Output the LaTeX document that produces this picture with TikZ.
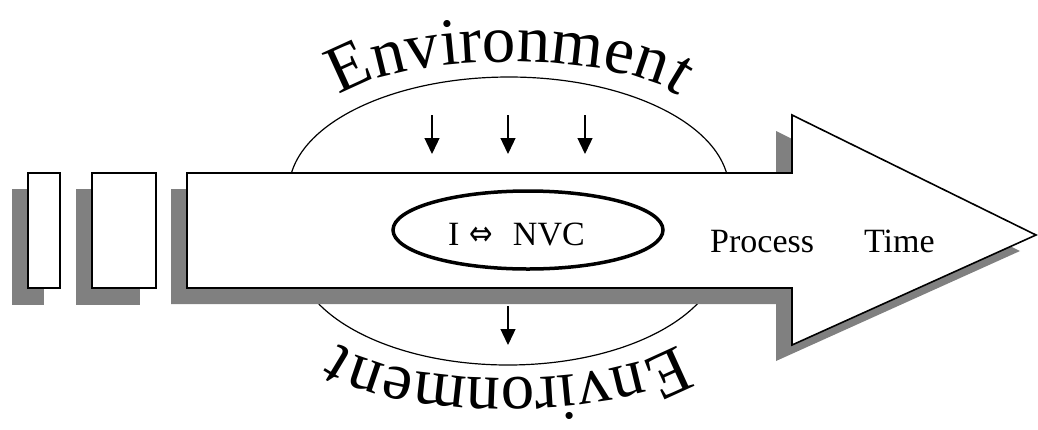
\documentclass[tikz,border=0pt]{standalone}
\usepackage{fontspec}
\usepackage{graphicx}
\setmainfont{Liberation Serif}
\newfontfamily\archfont{Liberation Serif}
\newfontfamily\arrowfont{DejaVu Sans}
\usetikzlibrary{decorations.text,arrows.meta,shapes.geometric}
\definecolor{shadowgray}{RGB}{128,128,128}
\newcommand{\archstyle}{\archfont\fontsize{67}{67}\selectfont}

\begin{document}
\begin{tikzpicture}[x=1pt,y=-1pt,
  outline/.style={draw=black,line width=1.6pt,fill=white,line join=miter},
  shadebox/.style={fill=shadowgray,draw=none},
  envarc/.style={draw=black,line width=1.2pt},
  inflow/.style={draw=black,line width=1.3pt,-{Triangle[width=15pt,length=16pt]}},
  labeltext/.style={font=\fontsize{34}{40}\selectfont,inner sep=0pt},
  corering/.style={draw=black,line width=3.5pt,ellipse,inner sep=0pt,
                   minimum width=270,minimum height=78}]
\useasboundingbox (0,0) rectangle (1038,429);

% environment arcs, partly hidden behind the process arrow
\draw[envarc] (289,190) arc[start angle=180,end angle=360,x radius=220,y radius=113];
\draw[envarc] (721,252) arc[start angle=0,end angle=180,x radius=213,y radius=113];

% earlier stages with drop shadows
\fill[shadebox] (12,189) rectangle (44,305);
\draw[outline] (28,173) rectangle (60,288);
\fill[shadebox] (76,189) rectangle (140,305);
\draw[outline] (92,173) rectangle (156,288);

% process arrow with drop shadow
\fill[shadebox,shift={(-16,16)}] (187,173) -- (792,173) -- (792,115) -- (1036,235)
  -- (792,345) -- (792,288) -- (187,288) -- cycle;
\draw[outline] (187,173) -- (792,173) -- (792,115) -- (1036,235)
  -- (792,345) -- (792,288) -- (187,288) -- cycle;

% environment influences
\coordinate (in1s) at (432,115); \coordinate (in1e) at (432,154);
\coordinate (in2s) at (508,115); \coordinate (in2e) at (508,154);
\coordinate (in3s) at (585,115); \coordinate (in3e) at (585,154);
\coordinate (out1s) at (508,306); \coordinate (out1e) at (508,345);
\draw[inflow] (in1s) -- (in1e);
\draw[inflow] (in2s) -- (in2e);
\draw[inflow] (in3s) -- (in3e);
\draw[inflow] (out1s) -- (out1e);

% core interaction
\node[corering] (core) at (528,230) {};
\node[labeltext,anchor=base west] (coretext) at (448,245)
  {I\hspace{10pt}\scalebox{1}[1.25]{\arrowfont\fontsize{28}{28}\selectfont ⇔}\hspace{20pt}NVC};

% process label
\node[labeltext,anchor=base west] (proc) at (710,252) {Process\hspace{50pt}Time};

% arched captions
\path[decorate,decoration={text along path,text align=center,
    text={|\archstyle|Environment}}]
  (331,112) arc[start angle=180,end angle=360,x radius=178,y radius=50];
\path[decorate,decoration={text along path,text align=center,
    text={|\archstyle|Environment}}]
  (686,328) arc[start angle=0,end angle=180,x radius=178,y radius=50];
\end{tikzpicture}
\end{document}
